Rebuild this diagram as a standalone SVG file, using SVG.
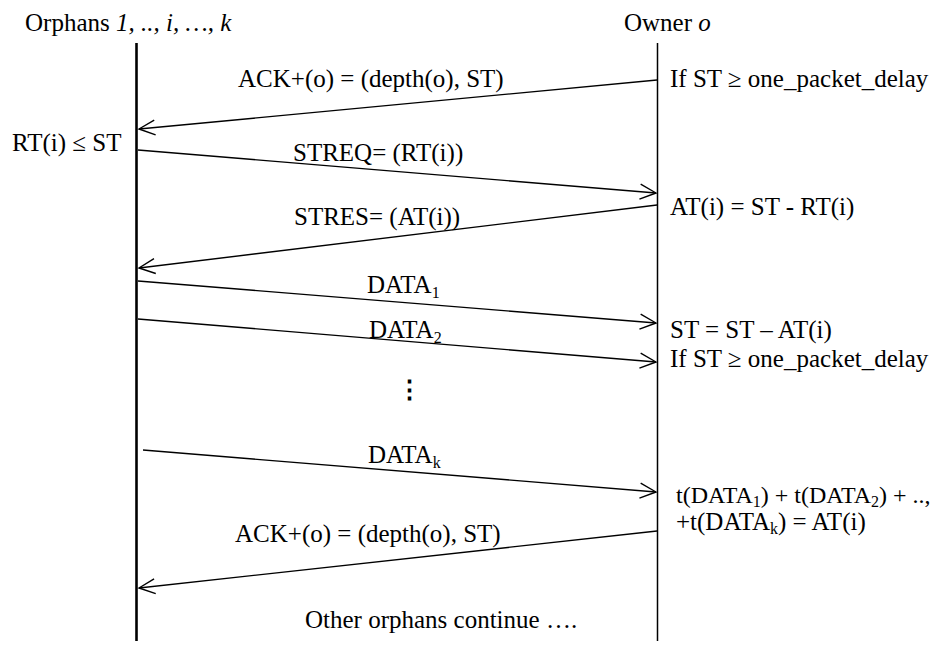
<svg xmlns="http://www.w3.org/2000/svg" width="941" height="645" viewBox="0 0 941 645" font-family="'Liberation Serif', Tinos, 'Times New Roman', 'DejaVu Serif', serif" font-size="25">
<defs>
<marker id="arr" markerUnits="userSpaceOnUse" markerWidth="20" markerHeight="20" viewBox="-18 -10 20 20" refX="0" refY="0" orient="auto">
<path d="M-16,-7.5 L0,0 L-16,7.5" fill="none" stroke="#000" stroke-width="1.4"/>
</marker>
</defs>
<style>
text{font-family:'Liberation Serif', Tinos, 'Times New Roman', 'DejaVu Serif', serif;font-size:25px;fill:#000}
.sub{font-size:16px}
.it{font-style:italic}
.msg{stroke:#000;stroke-width:1.4;fill:none;marker-end:url(#arr)}
</style>
<rect width="941" height="645" fill="#fff"/>
<g id="orphans">
<line x1="136.5" y1="43" x2="136.5" y2="641" stroke="#000" stroke-width="2.6"/>
<text x="25" y="31">Orphans <tspan class="it">1, .., i, …, k</tspan></text>
<text x="12" y="151">RT(i) ≤ ST</text>
</g>
<g id="owner">
<line x1="657.5" y1="43" x2="657.5" y2="641" stroke="#000" stroke-width="1.5"/>
<text x="624" y="31">Owner <tspan class="it">o</tspan></text>
<text x="670" y="87">If ST ≥ one_packet_delay</text>
<text x="670" y="215">AT(i) = ST - RT(i)</text>
<text x="670" y="338">ST = ST – AT(i)</text>
<text x="670" y="367">If ST ≥ one_packet_delay</text>
<text x="676" y="503" style="font-size:24px">t(DATA<tspan class="sub" dy="4">1</tspan><tspan dy="-4">) + t(DATA</tspan><tspan class="sub" dy="4">2</tspan><tspan dy="-4">) + ..,</tspan></text>
<text x="676" y="530">+t(DATA<tspan class="sub" dy="4">k</tspan><tspan dy="-4">) = AT(i)</tspan></text>
</g>
<g id="connectors">
<line class="msg" x1="657" y1="80" x2="139" y2="129"/>
<line class="msg" x1="138" y1="150" x2="656" y2="193"/>
<line class="msg" x1="657" y1="205" x2="139" y2="268"/>
<line class="msg" x1="138" y1="281" x2="656" y2="323"/>
<line class="msg" x1="138" y1="319" x2="656" y2="362"/>
<line class="msg" x1="143" y1="450" x2="656" y2="492"/>
<line class="msg" x1="657" y1="531" x2="139" y2="588"/>
</g>
<g id="labels">
<text x="238" y="87">ACK+(o) = (depth(o), ST)</text>
<text x="293" y="161">STREQ= (RT(i))</text>
<text x="294" y="225">STRES= (AT(i))</text>
<text x="367" y="293">DATA<tspan class="sub" dy="5">1</tspan></text>
<text x="369" y="338">DATA<tspan class="sub" dy="5">2</tspan></text>
<text x="397" y="398" style="font-family:'DejaVu Serif',serif;font-size:25px;font-weight:bold">⋮</text>
<text x="368" y="463">DATA<tspan class="sub" dy="5">k</tspan></text>
<text x="235" y="542">ACK+(o) = (depth(o), ST)</text>
<text x="305" y="628">Other orphans continue ….</text>
</g>
</svg>
